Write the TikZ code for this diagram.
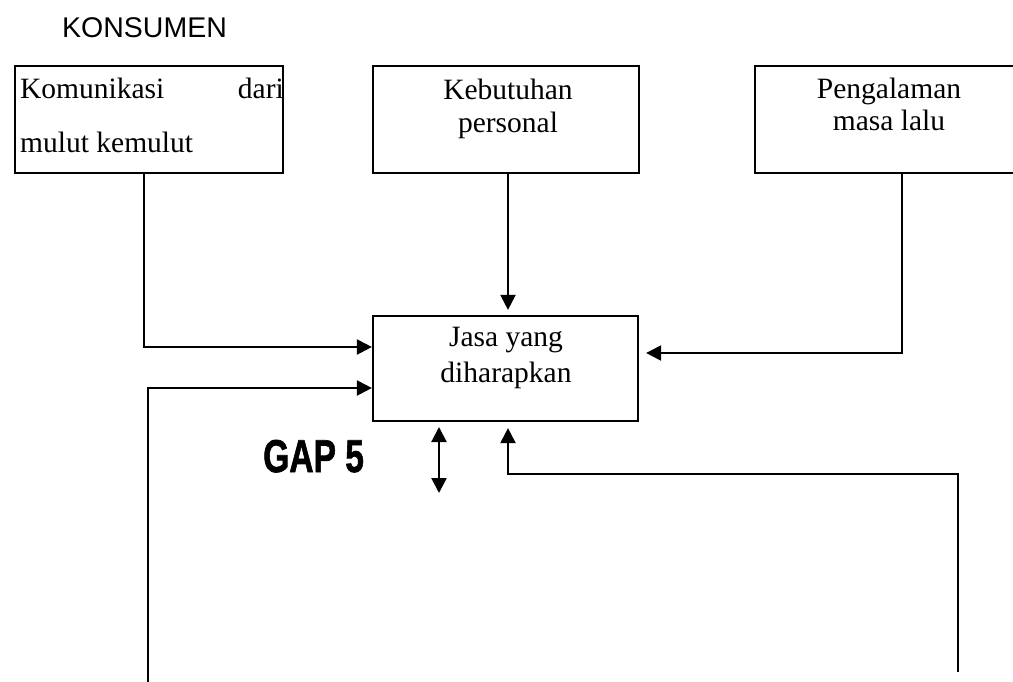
\documentclass[tikz,border=0pt]{standalone}
\usepackage{fontspec}
\setmainfont{Liberation Serif}
\newfontfamily\arialf{Liberation Sans}
\newfontfamily\gapf[FakeBold=1.6]{Liberation Sans Bold}
\usetikzlibrary{arrows.meta}
\tikzset{
  boxn/.style={draw, line width=2.2pt, inner sep=0pt},
  txt/.style={inner sep=0pt, font=\fontsize{29.5}{34}\selectfont},
  arr/.style={line width=2.2pt, -{Triangle[length=15pt,width=15pt]}},
  darr/.style={line width=2.2pt, {Triangle[length=15pt,width=15pt]}-{Triangle[length=15pt,width=15pt]}},
}
\begin{document}
\begin{tikzpicture}[x=1pt,y=-1pt]
\useasboundingbox[fill=white] (0,0) rectangle (1013,681);
% boxes
\node[boxn, minimum width=268pt, minimum height=107pt] (b1) at (149,119.5) {};
\node[boxn, minimum width=266pt, minimum height=107pt] (b2) at (506,119.5) {};
\node[boxn, minimum width=261pt, minimum height=107pt] (b3) at (885.5,119.5) {};
\node[boxn, minimum width=265pt, minimum height=105pt] (b4) at (505.5,368.5) {};
% texts
\node[txt, anchor=base west, font=\arialf\fontsize{28.5}{34}\selectfont] (kons) at (62,37) {KONSUMEN};
\node[txt, anchor=base west] (t1a) at (20,98) {Komunikasi};
\node[txt, anchor=base east] (t1b) at (284,98) {dari};
\node[txt, anchor=base west] (t1c) at (20,152) {mulut kemulut};
\node[txt, anchor=base] (t2a) at (508,99) {Kebutuhan};
\node[txt, anchor=base] (t2b) at (508,132) {personal};
\node[txt, anchor=base] (t3a) at (889,98) {Pengalaman};
\node[txt, anchor=base] (t3b) at (889,130) {masa lalu};
\node[txt, anchor=base] (t4a) at (506,346) {Jasa yang};
\node[txt, anchor=base] (t4b) at (506,382) {diharapkan};
\node[inner sep=0pt, anchor=base west, font=\gapf\fontsize{46}{50}\selectfont] (gap) at (263,472) {\scalebox{0.73}[1]{GAP 5}};
% free ends
\coordinate (L) at (148,684);
\coordinate (R) at (958,672);
\coordinate (dtop) at (439,427);
\coordinate (dbot) at (439,493);
% connectors
\draw[arr] ([xshift=-5pt]b1.south) |- ([yshift=21.5pt]b4.west);
\draw[arr] (L) |- ([yshift=-19.5pt]b4.west);
\draw[arr] ([xshift=2pt]b2.south) -- ([xshift=2.5pt,yshift=5pt]b4.north);
\draw[arr] ([xshift=16.5pt]b3.south) |- ([xshift=7pt,yshift=15.5pt]b4.east);
\draw[arr] (R) |- ([xshift=2.5pt,yshift=-52pt]b4.south) -- ([xshift=2.5pt,yshift=-6pt]b4.south);
\draw[darr] (dtop) -- (dbot);
\end{tikzpicture}
\end{document}
